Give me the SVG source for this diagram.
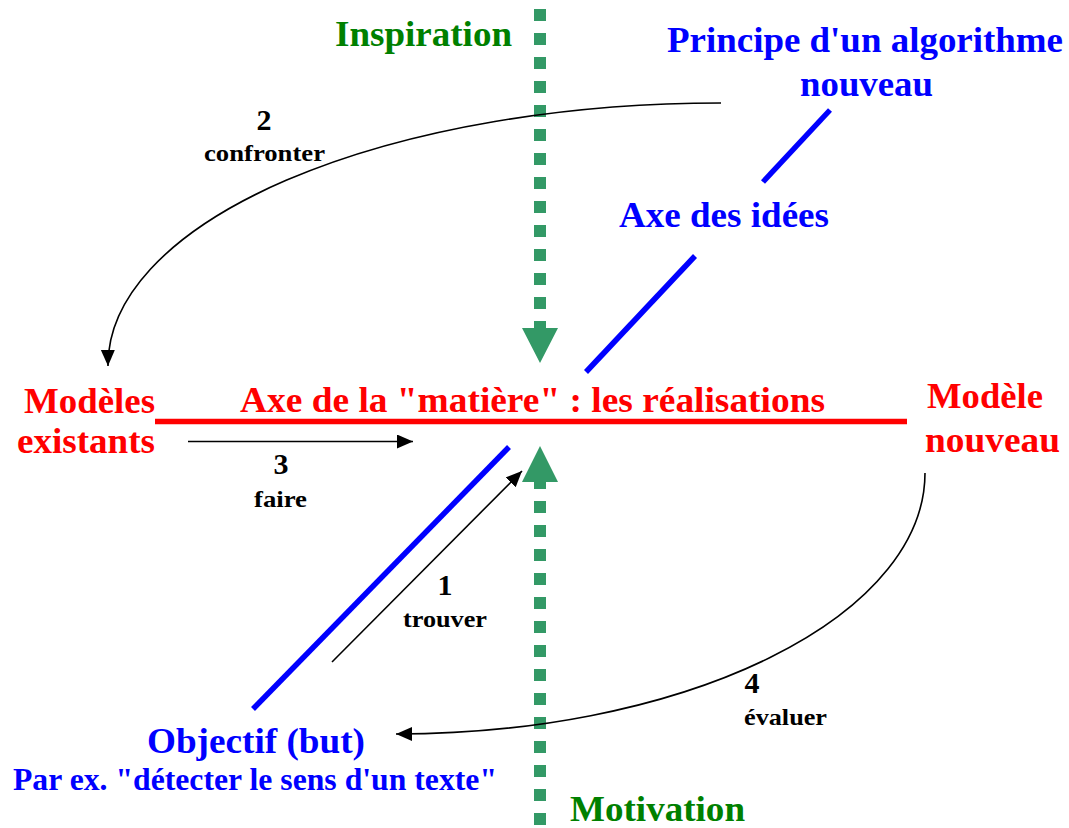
<svg xmlns="http://www.w3.org/2000/svg" width="1069" height="828" viewBox="0 0 1069 828">
<style>
text{font-family:"Liberation Serif","Times New Roman",serif;font-weight:bold}
.big{font-size:36px}
.red{fill:#FF0000}
.blue{fill:#0000FF}
.green{fill:#008000}
.num{font-size:30px;fill:#000}
.lbl{font-size:24px;fill:#000}
.conn{fill:none;stroke:#000;stroke-width:1.6}
.dots{stroke:#339966;stroke-width:12;stroke-dasharray:12 12}
.garrow{fill:#339966}
.axis-blue{stroke:#0000FF;stroke-width:5.5}
</style>
<defs>
<marker id="ah" markerUnits="userSpaceOnUse" markerWidth="17" markerHeight="15" refX="16" refY="7" orient="auto">
<path d="M0,0 L16,7 L0,14 Z" fill="#000"/>
</marker>
</defs>
<rect width="1069" height="828" fill="#fff"/>

<g id="axis-inspiration">
<line class="dots" x1="540" y1="9" x2="540" y2="310"/>
<polygon class="garrow" points="534,321 546,321 546,328 558,328 540,363 522,328 534,328"/>
<text class="big green" x="335" y="46" textLength="177" lengthAdjust="spacingAndGlyphs">Inspiration</text>
</g>

<g id="axis-motivation">
<line class="dots" x1="540" y1="501" x2="540" y2="840"/>
<polygon class="garrow" points="540,446 558,482 546,482 546,489 534,489 534,482 522,482"/>
<text class="big green" x="570" y="821" textLength="175" lengthAdjust="spacingAndGlyphs">Motivation</text>
</g>

<g id="axis-matiere">
<line x1="155" y1="421.5" x2="907" y2="421.5" stroke="#FF0000" stroke-width="5.5"/>
<text class="big red" x="240" y="412" textLength="585" lengthAdjust="spacingAndGlyphs">Axe de la "matière" : les réalisations</text>
</g>

<g id="axis-idees">
<line class="axis-blue" x1="830" y1="110" x2="763" y2="182"/>
<line class="axis-blue" x1="695" y1="256" x2="586" y2="372"/>
<text class="big blue" x="619" y="227" textLength="210" lengthAdjust="spacingAndGlyphs">Axe des idées</text>
</g>

<g id="axis-objectif">
<line class="axis-blue" x1="509" y1="447" x2="253" y2="709" stroke-width="6"/>
</g>

<g id="node-modeles-existants">
<text class="big red" x="24" y="413" textLength="131" lengthAdjust="spacingAndGlyphs">Modèles</text>
<text class="big red" x="17" y="453" textLength="138" lengthAdjust="spacingAndGlyphs">existants</text>
</g>

<g id="node-modele-nouveau">
<text class="big red" x="927" y="408" textLength="116" lengthAdjust="spacingAndGlyphs">Modèle</text>
<text class="big red" x="925" y="452" textLength="135" lengthAdjust="spacingAndGlyphs">nouveau</text>
</g>

<g id="node-principe">
<text class="big blue" x="667" y="52" textLength="396" lengthAdjust="spacingAndGlyphs">Principe d'un algorithme</text>
<text class="big blue" x="800" y="96" textLength="133" lengthAdjust="spacingAndGlyphs">nouveau</text>
</g>

<g id="node-objectif">
<text class="big blue" x="147" y="753" textLength="218" lengthAdjust="spacingAndGlyphs">Objectif (but)</text>
<text class="blue" font-size="31" x="13" y="790" textLength="484" lengthAdjust="spacingAndGlyphs">Par ex. "détecter le sens d'un texte"</text>
</g>

<g id="connectors">
<path class="conn" d="M721,103 A613,262 0 0 0 108,366" marker-end="url(#ah)"/>
<line class="conn" x1="188" y1="441.5" x2="413" y2="441.5" marker-end="url(#ah)"/>
<line class="conn" x1="332" y1="662" x2="522" y2="471" marker-end="url(#ah)"/>
<path class="conn" d="M925,473 A529,261 0 0 1 396,734" marker-end="url(#ah)"/>
</g>

<g id="labels">
<text class="num" x="264" y="130" text-anchor="middle">2</text>
<text class="lbl" x="204" y="161" textLength="121" lengthAdjust="spacingAndGlyphs">confronter</text>
<text class="num" x="281" y="474" text-anchor="middle">3</text>
<text class="lbl" x="254" y="507" textLength="53" lengthAdjust="spacingAndGlyphs">faire</text>
<text class="num" x="445" y="595" text-anchor="middle">1</text>
<text class="lbl" x="403" y="627" textLength="84" lengthAdjust="spacingAndGlyphs">trouver</text>
<text class="num" x="752" y="693" text-anchor="middle">4</text>
<text class="lbl" x="744" y="725" textLength="83" lengthAdjust="spacingAndGlyphs">évaluer</text>
</g>
</svg>
